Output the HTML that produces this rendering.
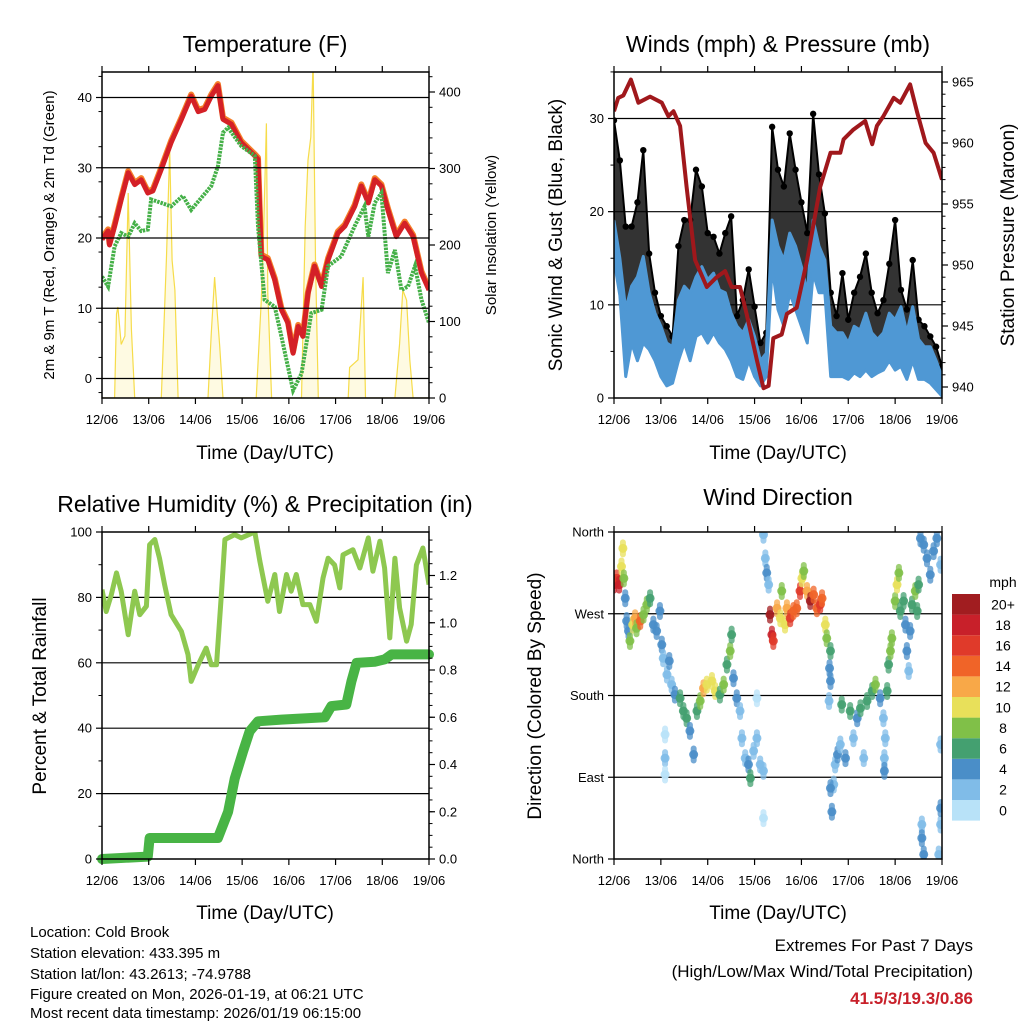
<!DOCTYPE html>
<html><head><meta charset="utf-8"><title>Weather station</title>
<style>
html,body{margin:0;padding:0;background:#fff;}
svg{display:block;font-family:"Liberation Sans",Arial,sans-serif;}
</style></head>
<body>
<svg id="chart" width="1024" height="1024" viewBox="0 0 1024 1024" xmlns="http://www.w3.org/2000/svg">
<rect x="0" y="0" width="1024" height="1024" fill="#fff"/>
<defs>
<clipPath id="c1"><rect x="102" y="72" width="327" height="326"/></clipPath>
<clipPath id="c2"><rect x="614" y="72" width="328" height="326"/></clipPath>
<clipPath id="c3"><rect x="102" y="532" width="327" height="327"/></clipPath>
<clipPath id="c4"><rect x="614" y="532" width="328" height="327"/></clipPath>
</defs>
<text x="265" y="52" font-size="23" text-anchor="middle">Temperature (F)</text>
<text x="778" y="52" font-size="23" text-anchor="middle">Winds (mph) &amp; Pressure (mb)</text>
<text x="265" y="512" font-size="23" text-anchor="middle">Relative Humidity (%) &amp; Precipitation (in)</text>
<text x="778" y="505" font-size="23" text-anchor="middle">Wind Direction</text>
<text x="265" y="459" font-size="19" text-anchor="middle">Time (Day/UTC)</text>
<text x="778" y="459" font-size="19" text-anchor="middle">Time (Day/UTC)</text>
<text x="265" y="919" font-size="19" text-anchor="middle">Time (Day/UTC)</text>
<text x="778" y="919" font-size="19" text-anchor="middle">Time (Day/UTC)</text>
<text transform="translate(54,235) rotate(-90)" font-size="15" text-anchor="middle">2m &amp; 9m T (Red, Orange) &amp; 2m Td (Green)</text>
<text transform="translate(496,235) rotate(-90)" font-size="15" text-anchor="middle">Solar Insolation (Yellow)</text>
<text transform="translate(562,235) rotate(-90)" font-size="19" text-anchor="middle">Sonic Wind &amp; Gust (Blue, Black)</text>
<text transform="translate(1014,235) rotate(-90)" font-size="19" text-anchor="middle">Station Pressure (Maroon)</text>
<text transform="translate(46,696) rotate(-90)" font-size="19" text-anchor="middle">Percent &amp; Total Rainfall</text>
<text transform="translate(541,696) rotate(-90)" font-size="19" text-anchor="middle">Direction (Colored By Speed)</text>
<g font-size="15">
<text x="30" y="937">Location: Cold Brook</text>
<text x="30" y="958">Station elevation: 433.395 m</text>
<text x="30" y="979">Station lat/lon: 43.2613; -74.9788</text>
<text x="30" y="999">Figure created on Mon, 2026-01-19, at 06:21 UTC</text>
<text x="30" y="1018">Most recent data timestamp: 2026/01/19 06:15:00</text>
</g>
<text x="973" y="951" font-size="17" text-anchor="end">Extremes For Past 7 Days</text>
<text x="973" y="977" font-size="17" text-anchor="end">(High/Low/Max Wind/Total Precipitation)</text>
<text x="973" y="1004" font-size="17" font-weight="bold" fill="#c8202a" text-anchor="end">41.5/3/19.3/0.86</text>
<text x="1003" y="587" font-size="14" text-anchor="middle">mph</text>
</svg>
<script>
// ---------- data ----------
const tempT = [0,.13,.16,.27,.41,.56,.7,.84,.98,1.09,1.27,1.48,1.7,1.91,2.06,2.2,2.34,2.48,2.59,2.77,2.98,3.27,3.34,3.41,3.55,3.7,3.84,3.98,4.09,4.2,4.3,4.41,4.55,4.7,4.84,5.05,5.2,5.41,5.55,5.7,5.84,5.98,6.12,6.3,6.48,6.66,6.84,7];
const tempRed = [19.8,21,19,21.7,25.5,29.3,27.6,28.3,26.4,26.7,29.8,33.6,36.9,40.2,38,38.3,40.2,41.7,36.9,36.2,33.6,31.7,31.2,17.4,16.9,14,9.8,7.9,3.6,7.4,6,12.1,16,13.1,16.9,20.7,21.7,24.5,27.4,25,28.3,27.4,24,20.2,22.1,20.2,15,12.6];
const dewT = [0,.13,.27,.41,.56,.7,.84,.98,1.05,1.27,1.48,1.73,1.91,2.06,2.34,2.48,2.59,2.7,2.98,3.27,3.34,3.48,3.7,3.84,3.98,4.09,4.27,4.48,4.7,4.84,5.12,5.41,5.62,5.7,5.84,5.98,6.12,6.27,6.41,6.55,6.7,6.84,7];
const dewV = [14.5,13.1,18.8,20.7,20.2,22.1,21,21.2,25.5,25,24.5,26,24,25.2,27.4,30.2,35,35.7,33.1,31.7,21.7,11.2,10.2,6,1.7,-1.7,0.7,9.3,9.8,16,17.4,21.7,24.5,20.2,25,26.4,15,18.3,12.6,13.1,16,11.2,7.9];
const solarT = [0,.27,.31,.34,.41,.49,.56,.63,.7,1.27,1.38,1.45,1.5,1.56,1.63,2.27,2.34,2.41,2.52,2.59,3.3,3.41,3.45,3.52,3.55,3.63,4.27,4.35,4.41,4.47,4.52,4.57,4.63,5.27,5.3,5.48,5.59,5.64,6.27,6.37,6.44,6.52,6.59,6.66,7];
const solarV = [0,0,110,119,70,81,268,90,0,0,185,324,180,141,0,0,85,158,68,0,0,128,198,359,137,0,0,224,311,341,440,180,0,0,40,50,158,0,0,71,141,128,50,0,0];

const windT = [0,.125,.25,.375,.5,.625,.75,.875,1,1.125,1.25,1.375,1.5,1.625,1.75,1.875,2,2.125,2.25,2.375,2.5,2.625,2.75,2.875,3,3.125,3.25,3.375,3.5,3.625,3.75,3.875,4,4.125,4.25,4.375,4.5,4.625,4.75,4.875,5,5.125,5.25,5.375,5.5,5.625,5.75,5.875,6,6.125,6.25,6.375,6.5,6.625,6.75,6.875,7];
const windLow = [14.8,11,2.3,5.9,4,5.9,5.2,4,2.3,1.3,1.6,4,5.9,4,6.6,7,5.9,7,5.9,5.2,4,2.3,2,4,2.3,1.3,2.3,14.1,9.5,7.7,11.3,9.5,7.7,5.9,13.4,11.3,11.3,2.3,2.3,2.3,2,2.7,2.3,3,2.3,2.7,3,4,3,3.4,2,4,2,2,1.6,0.9,0.2];
const windHigh = [19,15,9.5,12,13,15.2,11.3,9.1,7.7,5.9,5.5,10.5,12,11.3,13,14.1,12.7,13.4,11.6,11.3,9.1,7.7,7,8.4,6.6,4,4.8,19.1,16.3,14.8,17.7,16.3,14.1,11.3,19.1,16.3,14.8,7.7,7,7,5.9,7.7,7.3,9.1,7,6.3,7,9.1,8.4,9.8,7,9.8,6.3,5.5,5.5,4,2.3];
const gustMax = [29.8,25.5,18.4,18.4,21,26.6,15.5,11.3,8.8,7.7,6.6,16.3,19.1,19.1,24.5,22.7,17.7,17.3,15.5,17.7,19.5,8.8,10.5,13.8,9.8,5.9,7,29.1,24.5,22.7,28.4,24.5,21,17.7,30.5,24,19.8,11.3,8.8,13.4,8.4,11.3,13,15.5,11.3,9.1,10.5,14.4,19.1,11.6,9.5,14.8,8.4,7.7,6.6,5.5,3.4];
const presT = [0,.09,.2,.36,.52,.77,1.02,1.16,1.27,1.41,1.55,1.73,1.98,2.19,2.37,2.51,2.69,2.83,3.05,3.19,3.3,3.4,3.58,3.69,3.9,4.12,4.4,4.62,4.83,4.9,5.11,5.36,5.51,5.61,5.75,5.97,6.11,6.32,6.47,6.65,6.82,7];
const presV = [962.6,963.7,963.9,965.2,963.3,963.8,963.3,962.2,962.6,961.4,956.4,950.4,948.2,949,949.5,948.2,948.2,946,942.2,939.9,940.1,944,944.3,946,946.5,950.4,956.4,959.2,959.2,960.3,961.1,961.8,959.9,961.4,962.2,963.7,963.3,964.8,962.5,960,959.2,957];

const rhT = [0,.09,.2,.31,.41,.56,.7,.81,.95,1.02,1.13,1.23,1.34,1.48,1.7,1.84,1.91,2.06,2.23,2.34,2.45,2.56,2.63,2.84,2.98,3.27,3.38,3.55,3.7,3.8,3.95,4.05,4.16,4.3,4.45,4.59,4.73,4.84,4.98,5.09,5.16,5.37,5.52,5.7,5.8,5.95,6.05,6.16,6.27,6.37,6.52,6.62,6.73,6.87,7];
const rhV = [82.4,75.7,80.8,87.5,81.9,68.6,81.9,74.7,77.3,96.1,97.7,92,83.9,74.7,69.6,62.5,54.3,59.4,64.5,59.4,59.4,81.9,97.7,99.2,98.2,100,91,78.8,87,75.7,87,81.9,87,77.8,77.8,72.7,85.9,92,89.9,82.9,93,94.6,89,98.2,88,97.2,89,67.6,92,76.8,66.6,71.7,89.9,95.1,83.9];
const precT = [0,.98,1.02,2.48,2.7,2.84,3.02,3.16,3.34,3.84,4.77,4.91,5.23,5.34,5.45,5.84,6.05,6.2,7];
const precV = [0,0.01,0.089,0.089,0.2,0.34,0.456,0.54,0.583,0.59,0.6,0.647,0.654,0.753,0.83,0.835,0.845,0.866,0.866];

const dirT = [0,.06,.11,.16,.19,.21,.24,.27,.31,.34,.4,.45,.48,.56,.63,.7,.77,.84,.91,.98,1.02,1.05,1.13,1.18,1.23,1.3,1.41,1.48,1.55,1.62,1.7,1.77,1.84,1.91,1.98,2.09,2.16,2.26,2.34,2.41,2.48,2.51,2.55,2.62,2.69,2.73,2.8,2.87,2.91,2.98,3.05,3.12,3.19,1.09,1.09,1.09,3.05,3.19,
3.19,3.23,3.26,3.3,3.33,3.37,3.4,3.48,3.55,3.58,3.65,3.69,3.76,3.83,3.9,3.97,4.01,4.05,4.12,4.19,4.26,4.33,4.4,4.44,4.51,4.54,4.62,4.6,4.62,4.59,
4.69,4.72,4.77,4.83,4.86,4.94,5.04,5.11,5.19,5.26,5.33,5.4,5.51,5.58,5.68,5.75,5.79,5.83,5.77,5.77,5.86,5.9,5.93,6.0,6.04,6.08,6.11,6.18,6.22,6.25,6.29,6.32,6.36,6.43,6.47,6.5,6.54,6.61,6.68,6.75,6.82,6.89,6.97,
6.57,6.57,6.61,6.93,6.97,6.97,6.97,4.65,4.62];
const dirDeg = [302,309,302,322,342,309,287,262,251,240,258,265,254,262,269,280,287,258,251,273,236,221,203,218,192,181,177,163,155,141,115,163,174,188,192,196,185,181,192,214,229,247,199,177,163,133,111,104,89,119,133,104,97,137,111,93,177,45,
357,331,315,302,269,247,240,276,265,295,258,276,265,273,276,295,309,317,295,284,291,276,280,287,258,243,229,210,196,174,
82,104,115,126,170,111,163,133,155,166,111,174,185,192,177,155,133,185,111,97,214,229,243,284,302,315,273,284,258,229,207,251,280,295,273,302,353,346,331,313,339,353,324,
38,23,5,5,38,56,126,52,78];
const dirSpd = [18,16,18,10,10,8,4,4,4,8,10,12,8,14,8,8,6,4,4,4,4,2,2,4,2,4,6,6,6,4,4,6,8,12,10,10,10,6,8,6,8,6,4,4,2,2,2,4,6,2,2,2,2,0,2,0,0,0,
2,2,4,2,20,18,16,12,10,8,10,12,16,14,14,16,10,8,12,20,14,14,16,14,10,8,6,4,4,2,
2,2,4,2,6,4,6,2,4,6,2,6,6,8,4,2,2,6,2,4,6,8,8,8,10,8,6,6,4,4,2,4,6,8,6,6,4,4,4,4,4,4,2,
2,4,4,2,2,4,2,4,4];
const cbLabels = ['0','2','4','6','8','10','12','14','16','18','20+'];
const cbColors = ['#b8e2f8','#80bce8','#4a8ec8','#44a070','#80c048','#e8e05a','#f8a848','#f06428','#e03a2a','#c8202a','#a11d20'];

// ---------- helpers ----------
const NS = 'http://www.w3.org/2000/svg';
const svg = document.getElementById('chart');
function mk(tag, attrs, parent){
  const e = document.createElementNS(NS, tag);
  for (const k in attrs) e.setAttribute(k, attrs[k]);
  (parent || svg).appendChild(e);
  return e;
}
function lin(d0,d1,r0,r1){ return v => r0 + (v-d0)*(r1-r0)/(d1-d0); }

const P1 = {x0:102,x1:429,y0:72,y1:398};
const P2 = {x0:614,x1:942,y0:72,y1:398};
const P3 = {x0:102,x1:429,y0:532,y1:859};
const P4 = {x0:614,x1:942,y0:532,y1:859};
const dayLabels = ['12/06','13/06','14/06','15/06','16/06','17/06','18/06','19/06'];

function frame(P, name){
  const r = mk('rect',{x:P.x0,y:P.y0,width:P.x1-P.x0,height:P.y1-P.y0,fill:'none',stroke:'#000','stroke-width':1.5});
  
  
}
function grid(P, ys, name){
  ys.forEach(y=>{
    const l = mk('line',{x1:P.x0,x2:P.x1,y1:y,y2:y,stroke:'#000','stroke-width':1.2});
    
    
  });
}
function xAxis(P, name){
  const xs = lin(0,7,P.x0,P.x1);
  for (let i=0;i<8;i++){
    const x = xs(i);
    const t1 = mk('line',{x1:x,x2:x,y1:P.y1,y2:P.y1+6,stroke:'#000','stroke-width':1.2});
    
    
    const t2 = mk('line',{x1:x,x2:x,y1:P.y0,y2:P.y0-6,stroke:'#000','stroke-width':1.2});
    
    
    const tx = mk('text',{x:x,y:P.y1+26,'font-size':13,'text-anchor':'middle'});
    tx.textContent = dayLabels[i];
    
    
  }
}
function yTicks(P, side, scale, majors, labels, minors, name){
  const x = side==='l' ? P.x0 : P.x1;
  const dir = side==='l' ? -1 : 1;
  minors.forEach(v=>{
    const y = scale(v);
    if (y < P.y0-0.5 || y > P.y1+0.5) return;
    const m = mk('line',{x1:x,x2:x+dir*3.5,y1:y,y2:y,stroke:'#000','stroke-width':1});
    
    
  });
  majors.forEach((v,i)=>{
    const y = scale(v);
    const t = mk('line',{x1:x,x2:x+dir*6,y1:y,y2:y,stroke:'#000','stroke-width':1.2});
    
    
    const tx = mk('text',{x:x+dir*10,y:y+4.5,'font-size':13,'text-anchor':side==='l'?'end':'start'});
    tx.textContent = labels[i];
    
    
  });
}
function range(a,b,s){ const r=[]; for(let v=a; v<=b+1e-9; v+=s) r.push(+v.toFixed(4)); return r; }
function pts(T,V,xs,ys){ return T.map((t,i)=>xs(t).toFixed(1)+','+ys(V[i]).toFixed(1)).join(' '); }

// ---------- Panel 1: temperature ----------
{
  const xs = lin(0,7,P1.x0,P1.x1);
  const ys = lin(0,40,378.5,97.5);
  const ysSol = lin(0,400,398,92);
  const g = mk('g',{'clip-path':'url(#c1)'});
  
  
  grid(P1,[0,10,20,30,40].map(ys),'temp');
  const sol = mk('polyline',{points:pts(solarT,solarV,xs,ysSol),fill:'#fbeea0','fill-opacity':0.3,stroke:'#f6dc4a','stroke-width':1.2},g);
  
  
  const or = mk('polyline',{points:pts(tempT,tempRed,xs,ys),fill:'none',stroke:'#f57f2a','stroke-width':6,'stroke-linejoin':'round',transform:'translate(0,-1.6)'},g);
  
  
  const rd = mk('polyline',{points:pts(tempT,tempRed,xs,ys),fill:'none',stroke:'#d42027','stroke-width':5,'stroke-linejoin':'round'},g);
  
  
  const dw = mk('polyline',{points:pts(dewT,dewV,xs,ys),fill:'none',stroke:'#45b048','stroke-width':4,'stroke-dasharray':'2.5 1'},g);
  
  
  frame(P1,'temp');
  xAxis(P1,'temp');
  yTicks(P1,'l',ys,[0,10,20,30,40],['0','10','20','30','40'],range(-2,43,5).filter(v=>v%10!==0),'temp-y');
  yTicks(P1,'r',ysSol,[0,100,200,300,400],['0','100','200','300','400'],range(0,420,20),'solar-y');
}

// ---------- Panel 2: winds ----------
{
  const xs = lin(0,7,P2.x0,P2.x1);
  const ys = lin(0,30,398,118.5);
  const yp = lin(940,965,387,82);
  grid(P2,[10,20,30].map(ys),'wind');
  const g = mk('g',{'clip-path':'url(#c2)'});
  
  
  const gustPts = windT.map((t,i)=>xs(t)+','+ys(gustMax[i])).join(' ') + ' ' + windT.slice().reverse().map((t,j)=>{const i=windT.length-1-j; return xs(t)+','+ys(windLow[i]+1);}).join(' ');
  const gb = mk('polygon',{points:gustPts,fill:'#000','fill-opacity':0.8,stroke:'#000','stroke-width':2,'stroke-linejoin':'round'},g);
  
  
  windT.forEach((t,i)=>{
    const c = mk('circle',{cx:xs(t),cy:ys(gustMax[i]),r:3.2,fill:'#000'},g);
    
    
  });
  const bp = windT.map((t,i)=>xs(t)+','+ys(windHigh[i])).join(' ') + ' ' + windT.slice().reverse().map((t,j)=>{const i=windT.length-1-j; return xs(t)+','+ys(windLow[i]);}).join(' ');
  const bb = mk('polygon',{points:bp,fill:'#4f98d4',stroke:'#4f98d4','stroke-width':3,'stroke-linejoin':'round'},g);
  
  
  const pl = mk('polyline',{points:pts(presT,presV,xs,yp),fill:'none',stroke:'#a0181c','stroke-width':4,'stroke-linejoin':'round'},g);
  
  
  frame(P2,'wind');
  xAxis(P2,'wind');
  yTicks(P2,'l',ys,[0,10,20,30],['0','10','20','30'],[5,15,25,35],'wind-y');
  yTicks(P2,'r',yp,[940,945,950,955,960,965],['940','945','950','955','960','965'],range(939,966,1),'pressure-y');
}

// ---------- Panel 3: RH & precip ----------
{
  const xs = lin(0,7,P3.x0,P3.x1);
  const ys = lin(0,100,859,532);
  const yp = lin(0,1.2,859,575.5);
  grid(P3,[20,40,60,80].map(ys),'rh');
  const g = mk('g',{'clip-path':'url(#c3)'});
  
  
  const rl = mk('polyline',{points:pts(rhT,rhV,xs,ys),fill:'none',stroke:'#8ec850','stroke-width':5,'stroke-linejoin':'round'},g);
  
  
  const pr = mk('polyline',{points:pts(precT,precV,xs,yp),fill:'none',stroke:'#48b445','stroke-width':10,'stroke-linejoin':'round','stroke-linecap':'round'});
  
  
  frame(P3,'rh');
  xAxis(P3,'rh');
  yTicks(P3,'l',ys,[0,20,40,60,80,100],['0','20','40','60','80','100'],range(10,90,20),'rh-y');
  yTicks(P3,'r',yp,[0,0.2,0.4,0.6,0.8,1.0,1.2],['0.0','0.2','0.4','0.6','0.8','1.0','1.2'],range(0,1.35,0.05),'precip-y');
}

// ---------- Panel 4: wind direction ----------
{
  const xs = lin(0,7,P4.x0,P4.x1);
  const ys = lin(0,360,859,532);
  grid(P4,[90,180,270].map(ys),'dir');
  const g = mk('g',{'clip-path':'url(#c4)'});
  
  
  dirT.forEach((t,i)=>{
    const ci = Math.min(10, Math.round(dirSpd[i]/2));
    const c = mk('circle',{cx:xs(t),cy:ys(dirDeg[i]),r:4.5,fill:cbColors[ci],'fill-opacity':0.9},g);
    
    
    const s = mk('rect',{x:xs(t)-3,y:ys(dirDeg[i])-9,width:6,height:18,rx:3,fill:cbColors[ci],'fill-opacity':0.75},g);
    
    
  });
  frame(P4,'dir');
  xAxis(P4,'dir');
  yTicks(P4,'l',ys,[0,90,180,270,360],['North','East','South','West','North'],[],'dir-y');
  const cbx = 952, cbTop = 594, cbH = 20.6;
  for (let i=0;i<cbColors.length;i++){
    const y = cbTop + (cbColors.length-1-i)*cbH;
    const r = mk('rect',{x:cbx,y:y,width:28,height:cbH,fill:cbColors[i]});
    
    
    const tx = mk('text',{x:1003,y:y+cbH/2+5,'font-size':14,'text-anchor':'middle'});
    tx.textContent = cbLabels[i];
    
    
  }
}
</script>
</body></html>
